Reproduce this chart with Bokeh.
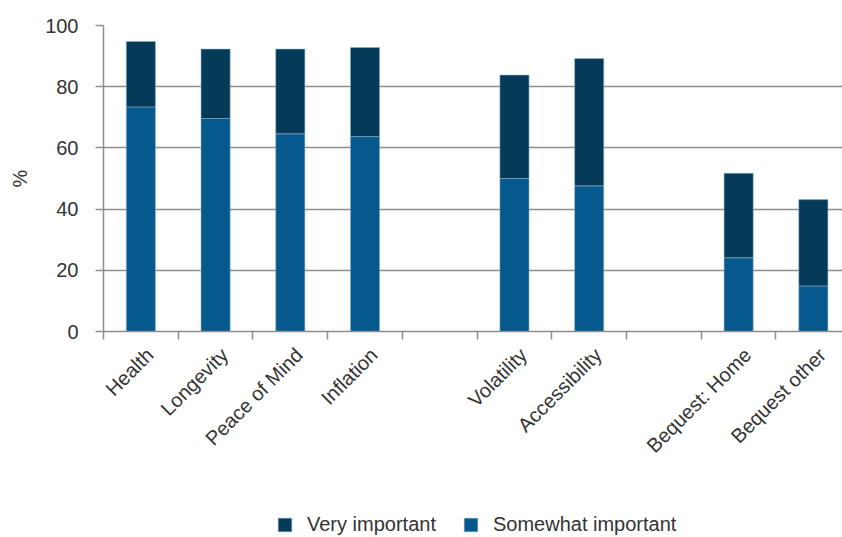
from math import pi
from bokeh.plotting import figure
from bokeh.layouts import column
from bokeh.models import (ColumnDataSource, LinearAxis, FixedTicker, Range1d,
                          Legend, LegendItem, Grid)
from bokeh.embed import file_html
from bokeh.resources import INLINE

# ---- data ----
categories = ["Health", "Longevity", "Peace of Mind", "Inflation", "",
              "Volatility", "Accessibility", "", "Bequest: Home", "Bequest other"]
somewhat_important = [73.4, 69.6, 64.6, 63.7, None, 50.0, 47.6, None, 24.1, 14.9]
very_important = [21.4, 22.7, 27.7, 29.1, None, 33.8, 41.6, None, 27.6, 28.2]
y_ticks = [0, 20, 40, 60, 80, 100]
series_names = ["Very important", "Somewhat important"]

# ---- style ----
C_VERY = "#053b59"
C_SOME = "#06598c"
GRID = "#8e8e8e"
TXT = "#333333"
FONT = "Liberation Sans"
LABEL_SHIFT = 0.12
X_END = 9.39

idx = [i for i, c in enumerate(categories) if c]
src = ColumnDataSource(dict(
    x=idx,
    somewhat=[somewhat_important[i] for i in idx],
    very=[very_important[i] for i in idx],
))

p = figure(width=842, height=500, output_backend="svg", toolbar_location=None,
           x_range=Range1d(-0.5, X_END), y_range=Range1d(0, 100),
           min_border_left=103, min_border_right=0, min_border_top=25,
           min_border_bottom=169, x_axis_location=None, y_axis_location=None)
p.outline_line_color = None
p.background_fill_color = "white"
p.border_fill_color = "white"
p.xgrid.visible = False
p.ygrid.visible = False

# y axis
yax = LinearAxis(ticker=FixedTicker(ticks=y_ticks), axis_label="%")
yax.axis_line_color = GRID
yax.axis_line_width = 1.5
yax.major_tick_line_color = GRID
yax.major_tick_line_width = 1.5
yax.major_tick_out = 8
yax.major_tick_in = 0
yax.minor_tick_line_color = None
yax.major_label_text_font = FONT
yax.major_label_text_font_size = "20px"
yax.major_label_text_color = TXT
yax.major_label_standoff = 17
yax.axis_label_text_font = FONT
yax.axis_label_text_font_size = "20px"
yax.axis_label_text_font_style = "normal"
yax.axis_label_text_color = TXT
yax.axis_label_standoff = 11
p.add_layout(yax, "left")

# x axis: tick marks at category boundaries
bounds = [i - 0.5 for i in range(len(categories) + 1)]
xax = LinearAxis(ticker=FixedTicker(ticks=bounds))
xax.major_label_overrides = {b: "" for b in bounds}
xax.axis_line_color = GRID
xax.axis_line_width = 1.5
xax.major_tick_line_color = GRID
xax.major_tick_line_width = 1.5
xax.major_tick_out = 8
xax.major_tick_in = 0
xax.minor_tick_line_color = None
xax.major_label_standoff = 0
xax.major_label_text_font_size = "1px"
p.add_layout(xax, "below")

# x axis: category labels
p.extra_x_ranges = {"lab": Range1d(-0.5 - LABEL_SHIFT, X_END - LABEL_SHIFT)}
lax = LinearAxis(x_range_name="lab", ticker=FixedTicker(ticks=idx))
lax.major_label_overrides = {i: categories[i] for i in idx}
lax.major_label_orientation = pi / 4
lax.axis_line_color = None
lax.major_tick_line_color = None
lax.minor_tick_line_color = None
lax.major_label_text_font = FONT
lax.major_label_text_font_size = "20px"
lax.major_label_text_color = TXT
lax.major_label_standoff = 6
p.add_layout(lax, "below")

p.add_layout(Grid(dimension=1, ticker=FixedTicker(ticks=y_ticks),
                  grid_line_color=GRID, grid_line_width=1.5))

bar_kw = dict(x="x", width=0.39, source=src, fill_color=[C_SOME, C_VERY],
              line_color="#8fb3cf", line_width=0.8, line_alpha=0.7)
rs = p.vbar_stack(["somewhat", "very"], **bar_kw)

# ---- legend strip below the chart ----
p2 = figure(width=842, height=37, output_backend="svg", toolbar_location=None,
            x_range=p.x_range, y_range=p.y_range,
            min_border_left=0, min_border_right=0, min_border_top=0,
            min_border_bottom=0, x_axis_location=None, y_axis_location=None)
p2.outline_line_color = None
p2.xgrid.visible = False
p2.ygrid.visible = False
rs2 = p2.vbar_stack(["somewhat", "very"], **bar_kw)
for r in rs2:
    r.visible = False

legend = Legend(items=[LegendItem(label=series_names[0], renderers=[rs2[1]]),
                       LegendItem(label=series_names[1], renderers=[rs2[0]])],
                orientation="horizontal", location=(173, 1),
                padding=0, margin=0, border_line_color=None,
                background_fill_alpha=0, inactive_fill_alpha=0,
                glyph_width=17, glyph_height=17,
                label_height=17, label_standoff=14, spacing=26,
                label_text_font=FONT, label_text_font_size="20px",
                label_text_color=TXT)
p2.add_layout(legend)

layout = column(p, p2, spacing=0)
open("out.html", "w").write(file_html(layout, INLINE))
